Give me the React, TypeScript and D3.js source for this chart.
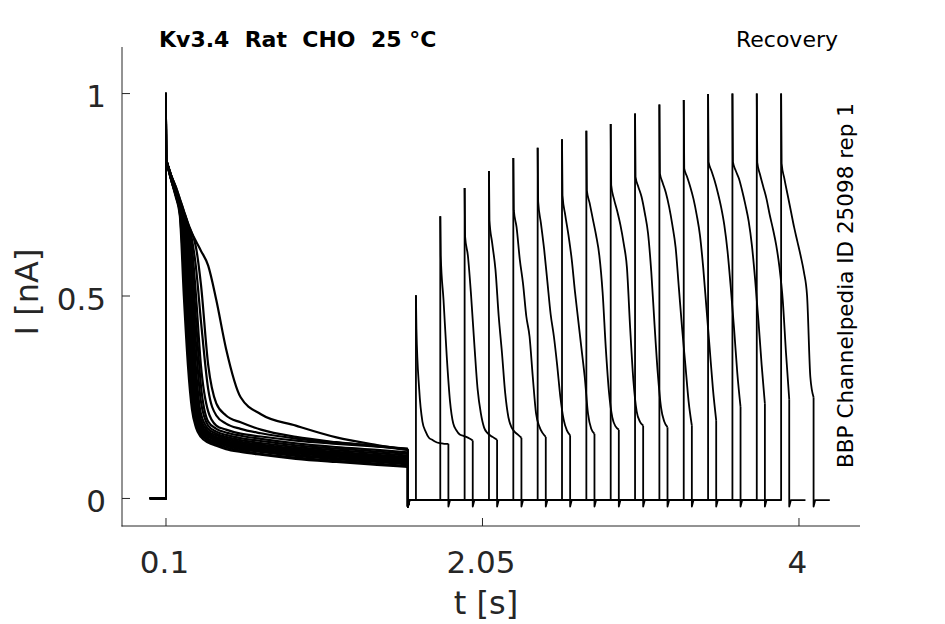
import React, { useEffect, useRef } from 'react';
import * as d3 from 'd3';

const firstPulseTimes = [0.102, 0.13, 0.16, 0.185, 0.21, 0.235, 0.26, 0.285, 0.315, 0.36, 0.41, 0.47, 0.56, 0.685, 0.9, 1.15, 1.4, 1.59];

// normalised current during the first pulse, one row per sweep
const firstPulseTraces = [
  [0.835, 0.79, 0.745, 0.7, 0.5, 0.33, 0.22, 0.175, 0.152, 0.138, 0.13, 0.122, 0.115, 0.108, 0.098, 0.09, 0.083, 0.078],
  [0.835, 0.79, 0.75, 0.705, 0.56, 0.37, 0.24, 0.185, 0.158, 0.142, 0.133, 0.126, 0.118, 0.11, 0.101, 0.093, 0.086, 0.08],
  [0.835, 0.79, 0.75, 0.71, 0.6, 0.41, 0.26, 0.19, 0.16, 0.145, 0.137, 0.13, 0.122, 0.115, 0.105, 0.097, 0.09, 0.084],
  [0.835, 0.795, 0.755, 0.715, 0.63, 0.45, 0.28, 0.2, 0.165, 0.148, 0.14, 0.133, 0.125, 0.118, 0.108, 0.1, 0.093, 0.087],
  [0.835, 0.795, 0.755, 0.715, 0.65, 0.49, 0.3, 0.21, 0.17, 0.152, 0.143, 0.136, 0.128, 0.121, 0.111, 0.103, 0.096, 0.09],
  [0.835, 0.795, 0.755, 0.72, 0.67, 0.53, 0.33, 0.22, 0.175, 0.155, 0.146, 0.139, 0.131, 0.124, 0.114, 0.106, 0.099, 0.093],
  [0.835, 0.795, 0.76, 0.72, 0.68, 0.57, 0.37, 0.24, 0.18, 0.158, 0.149, 0.142, 0.134, 0.127, 0.117, 0.109, 0.102, 0.096],
  [0.835, 0.795, 0.76, 0.72, 0.685, 0.6, 0.41, 0.26, 0.185, 0.162, 0.152, 0.145, 0.137, 0.13, 0.12, 0.112, 0.105, 0.099],
  [0.835, 0.795, 0.76, 0.725, 0.69, 0.62, 0.45, 0.29, 0.195, 0.166, 0.156, 0.148, 0.14, 0.133, 0.123, 0.115, 0.108, 0.102],
  [0.835, 0.795, 0.76, 0.725, 0.69, 0.64, 0.5, 0.32, 0.21, 0.172, 0.16, 0.152, 0.144, 0.137, 0.127, 0.119, 0.112, 0.106],
  [0.835, 0.8, 0.765, 0.73, 0.7, 0.655, 0.55, 0.38, 0.24, 0.18, 0.165, 0.157, 0.149, 0.142, 0.131, 0.123, 0.116, 0.11],
  [0.835, 0.8, 0.765, 0.73, 0.7, 0.665, 0.59, 0.44, 0.28, 0.19, 0.172, 0.163, 0.155, 0.147, 0.136, 0.127, 0.12, 0.114],
  [0.835, 0.8, 0.77, 0.74, 0.71, 0.675, 0.62, 0.5, 0.33, 0.215, 0.18, 0.17, 0.16, 0.153, 0.143, 0.135, 0.128, 0.123],
  [0.835, 0.8, 0.77, 0.74, 0.71, 0.68, 0.64, 0.57, 0.44, 0.27, 0.205, 0.185, 0.172, 0.161, 0.148, 0.138, 0.13, 0.122],
  [0.835, 0.795, 0.76, 0.73, 0.705, 0.68, 0.655, 0.62, 0.53, 0.33, 0.235, 0.205, 0.188, 0.17, 0.152, 0.139, 0.129, 0.12],
  [0.835, 0.79, 0.75, 0.715, 0.695, 0.675, 0.655, 0.635, 0.612, 0.575, 0.49, 0.37, 0.25, 0.208, 0.18, 0.151, 0.132, 0.12],
];

// onset (s) of the second (recovery) pulse of each sweep
const recoveryOnsets = [1.64, 1.79, 1.94, 2.09, 2.24, 2.39, 2.54, 2.69, 2.84, 2.99, 3.14, 3.29, 3.44, 3.59, 3.74, 3.89];

// time after onset (s) for the recovery pulse readings
const recoveryTimes = [0, 0.003, 0.02, 0.04, 0.06, 0.08, 0.1, 0.12, 0.14, 0.16, 0.18, 0.2];

const recoveryTraces = [
  [0.502, 0.42, 0.27, 0.19, 0.165, 0.15, 0.145, 0.14, 0.137, 0.136, 0.135, 0.135],
  [0.697, 0.6, 0.49, 0.35, 0.24, 0.185, 0.168, 0.158, 0.155, 0.152, 0.148, 0.143],
  [0.767, 0.646, 0.6, 0.5, 0.38, 0.27, 0.21, 0.175, 0.162, 0.155, 0.15, 0.145],
  [0.809, 0.687, 0.63, 0.565, 0.45, 0.36, 0.26, 0.2, 0.175, 0.164, 0.157, 0.15],
  [0.841, 0.712, 0.67, 0.59, 0.53, 0.45, 0.4, 0.3, 0.21, 0.178, 0.162, 0.152],
  [0.866, 0.733, 0.68, 0.615, 0.535, 0.455, 0.4, 0.33, 0.25, 0.195, 0.168, 0.156],
  [0.887, 0.749, 0.7, 0.65, 0.59, 0.51, 0.44, 0.37, 0.3, 0.21, 0.172, 0.16],
  [0.908, 0.761, 0.73, 0.69, 0.65, 0.6, 0.51, 0.37, 0.26, 0.2, 0.178, 0.17],
  [0.925, 0.774, 0.74, 0.71, 0.675, 0.63, 0.57, 0.42, 0.29, 0.215, 0.19, 0.18],
  [0.951, 0.794, 0.77, 0.745, 0.705, 0.655, 0.56, 0.43, 0.31, 0.225, 0.19, 0.176],
  [0.973, 0.803, 0.78, 0.755, 0.72, 0.675, 0.62, 0.52, 0.42, 0.33, 0.24, 0.18],
  [0.984, 0.815, 0.795, 0.77, 0.74, 0.7, 0.65, 0.57, 0.47, 0.37, 0.27, 0.193],
  [0.999, 0.831, 0.81, 0.785, 0.755, 0.72, 0.675, 0.61, 0.52, 0.42, 0.31, 0.226],
  [1.0, 0.831, 0.81, 0.79, 0.76, 0.725, 0.685, 0.625, 0.54, 0.44, 0.33, 0.234],
  [1.0, 0.83, 0.8, 0.77, 0.74, 0.7, 0.665, 0.625, 0.57, 0.49, 0.36, 0.245],
  [1.0, 0.828, 0.79, 0.75, 0.71, 0.67, 0.635, 0.6, 0.56, 0.5, 0.3, 0.25],
];

const pulseOnset = 0.1;
const firstPulsePeak = 1;
const restLevel = -0.004;
const dipLevel = -0.02;
const tailAfterPulse = 0.1;

const xTicks = [0.1, 2.05, 4];
const yTicks = [0, 0.5, 1];

const W = 945;
const H = 624;
const FONT = '"DejaVu Sans", Verdana, sans-serif';
const AXIS = '#262626';

type Pt = [number, number];

const RecoveryChart: React.FC = () => {
  const svgRef = useRef<SVGSVGElement>(null);

  useEffect(() => {
    if (!svgRef.current) return;
    const svg = d3.select(svgRef.current);
    svg.selectAll('*').remove();

    const x = d3.scaleLinear().domain([-0.171, 4.376]).range([122, 860]);
    const y = d3.scaleLinear().domain([-0.068, 1.115]).range([526, 47]);

    const straight = d3.line<Pt>().x(d => x(d[0])).y(d => y(d[1]));
    const smooth = d3.line<Pt>().x(d => x(d[0])).y(d => y(d[1])).curve(d3.curveMonotoneX);

    const traces = svg.append('g')
      .attr('fill', 'none')
      .attr('stroke', '#000')
      .attr('stroke-width', 1.8)
      .attr('stroke-linejoin', 'round');

    const fpEnd = firstPulseTimes[firstPulseTimes.length - 1];
    const rcLen = recoveryTimes[recoveryTimes.length - 1];

    recoveryOnsets.forEach((onset, i) => {
      const fp = firstPulseTraces[i];
      const rc = recoveryTraces[i];
      const rcEnd = onset + rcLen;

      const steps: Pt[][] = [
        [[0, 0], [pulseOnset, 0], [pulseOnset, firstPulsePeak], [firstPulseTimes[0], fp[0]]],
        [[fpEnd, fp[fp.length - 1]], [fpEnd, dipLevel], [fpEnd + 0.01, restLevel], [onset, restLevel], [onset, rc[0]]],
        [[rcEnd, rc[rc.length - 1]], [rcEnd, dipLevel], [rcEnd + 0.01, restLevel], [rcEnd + tailAfterPulse, restLevel]],
      ];

      steps.forEach(s => traces.append('path').attr('d', straight(s) as string));

      // first-pulse decay drawn a little heavier: the recorded traces are noisy there
      traces.append('path')
        .attr('stroke-width', 2.2)
        .attr('d', smooth(firstPulseTimes.map((t, j) => [t, fp[j]] as Pt)) as string);
      traces.append('path')
        .attr('d', smooth(recoveryTimes.map((t, j) => [onset + t, rc[j]] as Pt)) as string);
    });

    // axes (box off, ticks pointing inward)
    const axes = svg.append('g').attr('stroke', AXIS).attr('stroke-width', 1).attr('fill', 'none');
    axes.append('line').attr('x1', 122).attr('x2', 122).attr('y1', 47).attr('y2', 526.5);
    axes.append('line').attr('x1', 121.5).attr('x2', 860).attr('y1', 526).attr('y2', 526);

    yTicks.forEach(v => {
      axes.append('line').attr('x1', 122).attr('x2', 130).attr('y1', y(v)).attr('y2', y(v));
    });
    xTicks.forEach(v => {
      axes.append('line').attr('x1', x(v)).attr('x2', x(v)).attr('y1', 526).attr('y2', 518);
    });

    const labels = svg.append('g').attr('font-family', FONT).attr('fill', AXIS);

    labels.selectAll('.ytick')
      .data(yTicks)
      .enter()
      .append('text')
      .attr('class', 'ytick')
      .attr('x', 106)
      .attr('y', d => y(d) + 13.5)
      .attr('text-anchor', 'end')
      .attr('font-size', 31)
      .text(d => String(d));

    labels.selectAll('.xtick')
      .data(xTicks)
      .enter()
      .append('text')
      .attr('class', 'xtick')
      .attr('x', d => x(d) - 1.5)
      .attr('y', 572.5)
      .attr('text-anchor', 'middle')
      .attr('font-size', 31)
      .text(d => String(d));

    labels.append('text')
      .attr('x', 486)
      .attr('y', 614)
      .attr('text-anchor', 'middle')
      .attr('font-size', 32)
      .text('t [s]');

    labels.append('text')
      .attr('transform', 'translate(38,292) rotate(-90)')
      .attr('text-anchor', 'middle')
      .attr('font-size', 32)
      .text('I [nA]');

    const notes = svg.append('g').attr('font-family', FONT).attr('fill', '#000');

    notes.append('text')
      .attr('x', 159)
      .attr('y', 47)
      .attr('font-size', 22)
      .attr('font-weight', 'bold')
      .style('white-space', 'pre')
      .text('Kv3.4  Rat  CHO  25 °C');

    notes.append('text')
      .attr('x', 838)
      .attr('y', 47)
      .attr('text-anchor', 'end')
      .attr('font-size', 22)
      .text('Recovery');

    notes.append('text')
      .attr('transform', 'translate(853,285.5) rotate(-90)')
      .attr('text-anchor', 'middle')
      .attr('font-size', 21.5)
      .text('BBP Channelpedia ID 25098 rep 1');
  }, []);

  return (
    <svg
      ref={svgRef}
      width={W}
      height={H}
      viewBox={`0 0 ${W} ${H}`}
      style={{ position: 'absolute', left: 0, top: 0, background: '#fff', display: 'block' }}
    />
  );
};

export default function App() {
  return <RecoveryChart />;
}
